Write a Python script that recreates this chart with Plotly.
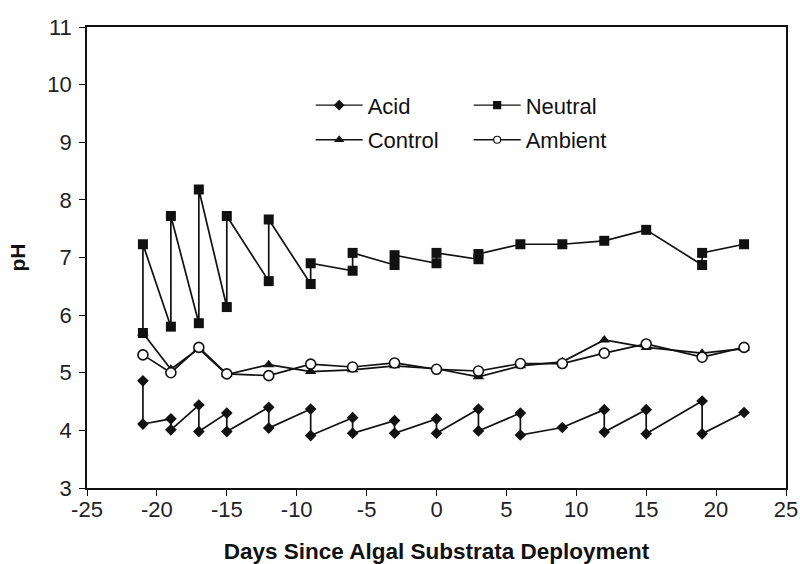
import plotly.graph_objects as go

# Days (repeated day = two readings on same day, joined by a vertical segment)
acid_days = [-21, -21, -19, -19, -17, -17, -15, -15, -12, -12, -9, -9, -6, -6, -3, -3,
             0, 0, 3, 3, 6, 6, 9, 12, 12, 15, 15, 19, 19, 22]
acid_ph = [4.86, 4.11, 4.20, 4.01, 4.44, 3.98, 4.30, 3.98, 4.40, 4.04, 4.37, 3.91, 4.22, 3.95,
           4.17, 3.95, 4.20, 3.95, 4.37, 3.99, 4.30, 3.92, 4.05, 4.36, 3.97, 4.36, 3.94,
           4.51, 3.94, 4.31]

neutral_days = [-21, -21, -19, -19, -17, -17, -15, -15, -12, -12, -9, -9, -6, -6, -3, -3,
                0, 0, 3, 3, 6, 9, 12, 15, 19, 19, 22]
neutral_ph = [5.69, 7.23, 5.80, 7.72, 5.86, 8.18, 6.14, 7.72, 6.59, 7.66, 6.54, 6.90, 6.77, 7.08,
              6.87, 7.04, 6.90, 7.08, 6.97, 7.06, 7.23, 7.23, 7.29, 7.48, 6.87, 7.08, 7.23]

control_days = [-21, -19, -17, -15, -12, -9, -6, -3, 0, 3, 6, 9, 12, 15, 19, 22]
control_ph = [5.69, 5.06, 5.42, 4.97, 5.14, 5.02, 5.05, 5.12, 5.07, 4.93, 5.12, 5.19, 5.57, 5.44,
              5.34, 5.42]

ambient_days = [-21, -19, -17, -15, -12, -9, -6, -3, 0, 3, 6, 9, 12, 15, 19, 22]
ambient_ph = [5.31, 5.00, 5.44, 4.98, 4.95, 5.15, 5.10, 5.17, 5.06, 5.03, 5.16, 5.16, 5.34, 5.50,
              5.27, 5.44]

x_ticks = [-25, -20, -15, -10, -5, 0, 5, 10, 15, 20, 25]
x_tick_labels = ["-25", "-20", "-15", "-10", "-5", "0", "5", "10", "15", "20", "25"]
y_ticks = [3, 4, 5, 6, 7, 8, 9, 10, 11]

INK = "#111111"
FONT = "Liberation Sans, Arial, sans-serif"

fig = go.Figure()

line = dict(color=INK, width=1.7)

# data traces (drawing order: control, ambient, acid, neutral)
fig.add_trace(go.Scatter(x=control_days, y=control_ph, mode="lines+markers", line=line,
                         marker=dict(symbol="triangle-up", size=10, color=INK),
                         showlegend=False, name="Control"))
fig.add_trace(go.Scatter(x=ambient_days, y=ambient_ph, mode="lines+markers", line=line,
                         marker=dict(symbol="circle", size=10, color="white",
                                     line=dict(color=INK, width=1.6)),
                         showlegend=False, name="Ambient"))
fig.add_trace(go.Scatter(x=acid_days, y=acid_ph, mode="lines+markers", line=line,
                         marker=dict(symbol="diamond", size=9, color=INK),
                         showlegend=False, name="Acid"))
fig.add_trace(go.Scatter(x=neutral_days, y=neutral_ph, mode="lines+markers", line=line,
                         marker=dict(symbol="square", size=10, color=INK),
                         showlegend=False, name="Neutral"))

# legend entries (small symbols as in the original)
leg_line = dict(color=INK, width=1.3)
for name, sym, fill, lg in [("Acid", "diamond", INK, "legend"),
                            ("Neutral", "square", INK, "legend"),
                            ("Control", "triangle-up", INK, "legend2"),
                            ("Ambient", "circle", "white", "legend2")]:
    fig.add_trace(go.Scatter(x=[None], y=[None], mode="lines+markers", name=name,
                             line=leg_line, legend=lg,
                             marker=dict(symbol=sym, size=7, color=fill,
                                         line=dict(color=INK, width=1.2))))

axis_common = dict(showline=True, linecolor=INK, linewidth=1.6, mirror=True,
                   ticks="outside", ticklen=6, tickwidth=1.3, tickcolor=INK,
                   showgrid=False, zeroline=False, automargin=False,
                   tickfont=dict(family=FONT, size=22, color="#222222"))

fig.update_xaxes(range=[-25, 25], tickvals=x_ticks, ticktext=x_tick_labels,
                 ticklabelstandoff=-5,
                 title=dict(text="<b>Days Since Algal Substrata Deployment</b>",
                            font=dict(family=FONT, size=22.5, color="#111111"), standoff=22),
                 **axis_common)
fig.update_yaxes(range=[3, 11], tickvals=y_ticks, ticklabelstandoff=3,
                 title=dict(text="<b>pH</b>",
                            font=dict(family=FONT, size=21, color="#111111"), standoff=16),
                 **axis_common)

legend_common = dict(orientation="h", bgcolor="rgba(0,0,0,0)", borderwidth=0,
                     font=dict(family=FONT, size=22, color="#111111"),
                     entrywidth=96, entrywidthmode="pixels", itemwidth=47,
                     xanchor="left", yanchor="middle", itemclick=False)

fig.update_layout(
    width=800, height=564,
    margin=dict(l=87, r=14, t=27, b=76),
    paper_bgcolor="white", plot_bgcolor="white",
    font=dict(family=FONT, color=INK),
    legend=dict(x=0.320, y=0.83, **legend_common),
    legend2=dict(x=0.320, y=0.755, **legend_common),
)

fig.write_html("out.html")
